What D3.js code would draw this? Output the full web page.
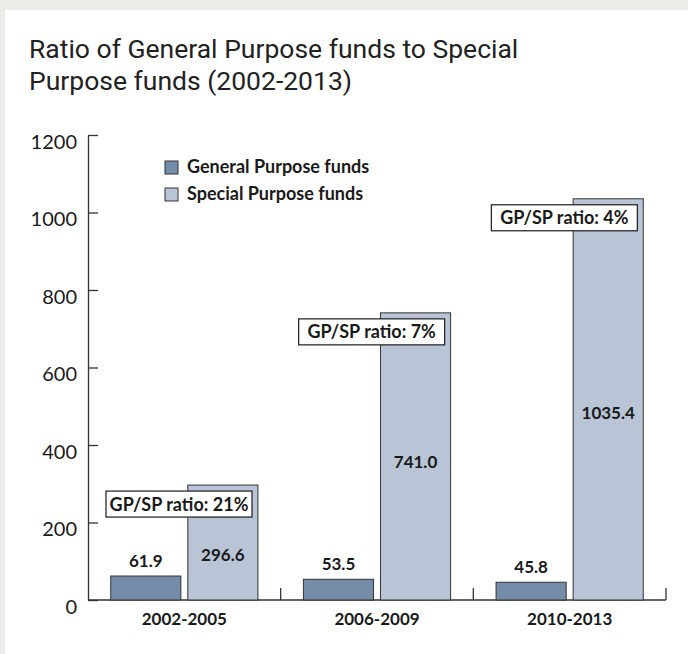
<!DOCTYPE html>
<html>
<head>
<meta charset="UTF-8">
<title>GP vs SP funds</title>
<style>
  body { margin: 0; background: #ecebe7; }
  svg { display: block; }
  .axis path, .axis line { stroke: #333; stroke-width: 1.3px; }
  .axis text { font-family: Lato, sans-serif; font-size: 20px; fill: #1a1a1a; }
  .bold { font-family: Lato, sans-serif; font-weight: bold; fill: #1a1a1a; }
</style>
</head>
<body>
<script src="https://d3js.org/d3.v7.min.js"></script>
<script>
// data
var categories = ["2002-2005", "2006-2009", "2010-2013"];
var generalPurpose = [61.9, 53.5, 45.8];
var specialPurpose = [296.6, 741.0, 1035.4];
var ratioLabels = ["GP/SP ratio: 21%", "GP/SP ratio: 7%", "GP/SP ratio: 4%"];
var seriesNames = ["General Purpose funds", "Special Purpose funds"];
var yTicks = [0, 200, 400, 600, 800, 1000, 1200];

var colors = ["#748ca8", "#b9c5d6"];

var W = 688, H = 654;
var svg = d3.select("body").append("svg").attr("width", W).attr("height", H);

// white panel
svg.append("rect").attr("x", 5).attr("y", 10).attr("width", W - 5).attr("height", H - 10).attr("fill", "#fff");

// title
var title = svg.append("text")
    .style("font-family", "Roboto, sans-serif")
    .style("font-size", "26.5px")
    .style("fill", "#222");
title.append("tspan").attr("x", 29).attr("y", 58).text("Ratio of General Purpose funds to Special");
title.append("tspan").attr("x", 29).attr("y", 90).text("Purpose funds (2002-2013)");

var plotLeft = 88, plotRight = 666, plotTop = 135, plotBottom = 600;

var y = d3.scaleLinear().domain([0, 1200]).range([plotBottom, plotTop]);
var x0 = d3.scaleBand().domain(categories).range([plotLeft, plotRight]);
var x1 = d3.scaleBand().domain(seriesNames).range([0, x0.bandwidth()])
    .paddingInner(0.09).paddingOuter(0.295);

// y axis
var yAxis = d3.axisLeft(y).tickValues(yTicks).tickFormat(d3.format("d"))
    .tickSizeInner(-10).tickSizeOuter(0).tickPadding(11);
var gy = svg.append("g").attr("class", "axis").attr("transform", "translate(" + plotLeft + ",0)").call(yAxis);
gy.selectAll("text").attr("dy", "0.65em");

// x axis baseline and boundary ticks
var gx = svg.append("g").attr("class", "axis");
gx.append("line").attr("x1", plotLeft).attr("x2", plotRight).attr("y1", plotBottom).attr("y2", plotBottom);
gx.selectAll(".sep").data(categories).enter().append("line")
    .attr("x1", function(d) { return x0(d) + x0.bandwidth(); })
    .attr("x2", function(d) { return x0(d) + x0.bandwidth(); })
    .attr("y1", plotBottom).attr("y2", plotBottom - 12);

// category labels
svg.selectAll(".cat").data(categories).enter().append("text")
    .attr("class", "bold")
    .attr("x", function(d) { return x0(d) + x0.bandwidth() / 2; })
    .attr("y", 625)
    .attr("text-anchor", "middle")
    .style("font-size", "17px")
    .text(function(d) { return d; });

// bars
var groups = svg.selectAll(".grp").data(categories).enter().append("g")
    .attr("transform", function(d) { return "translate(" + x0(d) + ",0)"; });

groups.append("rect")
    .attr("x", x1(seriesNames[0]))
    .attr("width", x1.bandwidth())
    .attr("y", function(d, i) { return y(generalPurpose[i]); })
    .attr("height", function(d, i) { return plotBottom - y(generalPurpose[i]); })
    .attr("fill", colors[0]).attr("stroke", "#333").attr("stroke-width", 1);

groups.append("rect")
    .attr("x", x1(seriesNames[1]))
    .attr("width", x1.bandwidth())
    .attr("y", function(d, i) { return y(specialPurpose[i]); })
    .attr("height", function(d, i) { return plotBottom - y(specialPurpose[i]); })
    .attr("fill", colors[1]).attr("stroke", "#333").attr("stroke-width", 1);

// GP value labels above the bars
groups.append("text")
    .attr("class", "bold")
    .attr("x", x1(seriesNames[0]) + x1.bandwidth() / 2)
    .attr("y", function(d, i) { return y(generalPurpose[i]) - 9; })
    .attr("text-anchor", "middle")
    .style("font-size", "17px")
    .text(function(d, i) { return generalPurpose[i].toFixed(1); });

// SP value labels inside the bars
var spFrac = [0.335, 0.458, 0.45];
groups.append("text")
    .attr("class", "bold")
    .attr("x", x1(seriesNames[1]) + x1.bandwidth() / 2)
    .attr("y", function(d, i) { return plotBottom - (plotBottom - y(specialPurpose[i])) * spFrac[i]; })
    .attr("text-anchor", "middle")
    .style("font-size", "17px")
    .text(function(d, i) { return specialPurpose[i].toFixed(1); });

// ratio boxes
var boxW = 146, boxH = 26;
groups.append("rect")
    .attr("x", 18)
    .attr("y", function(d, i) { return y(specialPurpose[i]) + 6; })
    .attr("width", boxW).attr("height", boxH)
    .attr("fill", "#fff").attr("stroke", "#1a1a1a").attr("stroke-width", 1.2);

groups.append("text")
    .attr("class", "bold")
    .attr("x", 18 + boxW / 2)
    .attr("y", function(d, i) { return y(specialPurpose[i]) + 6 + boxH / 2 + 6.5; })
    .attr("text-anchor", "middle")
    .style("font-size", "18px")
    .text(function(d, i) { return ratioLabels[i]; });

// legend
var legend = svg.selectAll(".leg").data(seriesNames).enter().append("g")
    .attr("transform", function(d, i) { return "translate(165," + (161 + i * 27) + ")"; });
legend.append("rect").attr("width", 13).attr("height", 13)
    .attr("fill", function(d, i) { return colors[i]; })
    .attr("stroke", "#333").attr("stroke-width", 1);
legend.append("text")
    .attr("class", "bold")
    .attr("x", 22).attr("y", 12)
    .style("font-size", "18px")
    .text(function(d) { return d; });
</script>
</body>
</html>
